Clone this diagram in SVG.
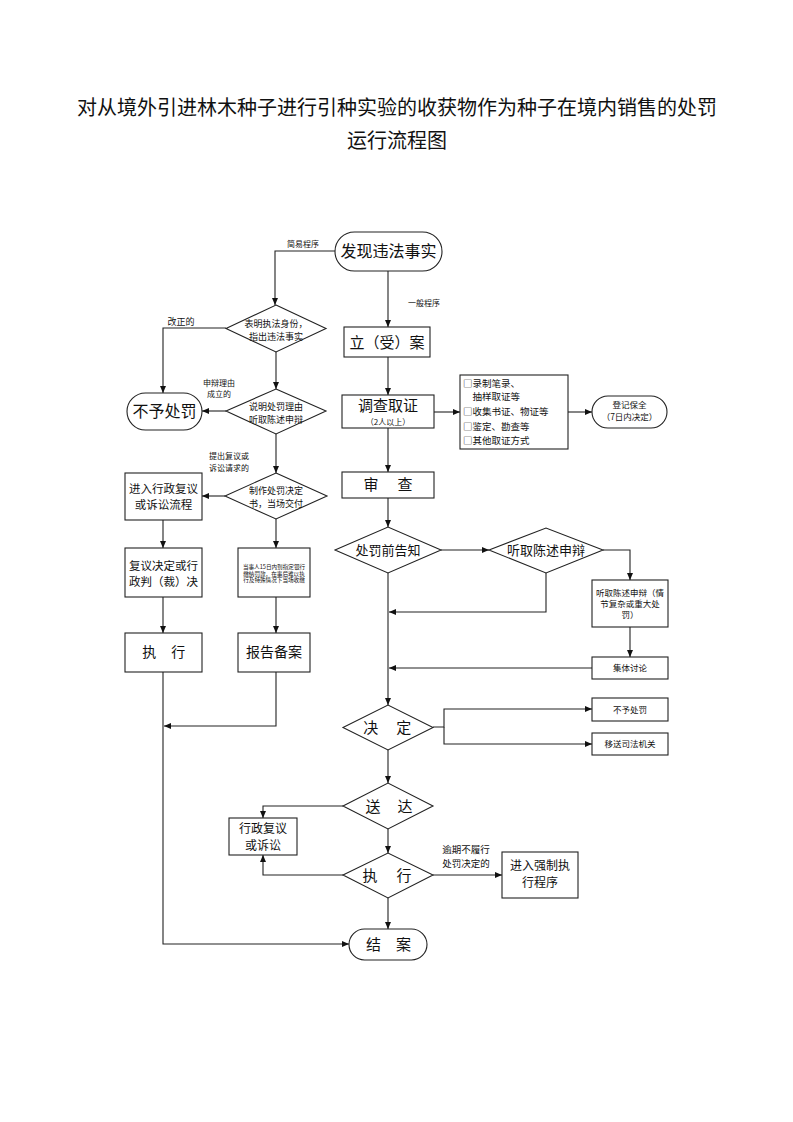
<svg xmlns="http://www.w3.org/2000/svg" width="793" height="1122" viewBox="0 0 793 1122">
<style>
text{font-family:"Noto Sans CJK SC","Noto Sans",sans-serif;fill:#111;text-anchor:middle}
.s{fill:#fff;stroke:#222;stroke-width:1.1}
.c path{fill:none;stroke:#222;stroke-width:1.1}
.t{font-size:20px}
.l{font-size:8px}
</style>
<defs>
<marker id="a" markerWidth="7" markerHeight="6" refX="7" refY="3" orient="auto" markerUnits="userSpaceOnUse"><path d="M0,0 L7,3 L0,6 Z" fill="#111"/></marker>
</defs>
<rect width="793" height="1122" fill="#fff"/>
<g id="title">
<text class="t" x="397" y="115">对从境外引进林木种子进行引种实验的收获物作为种子在境内销售的处罚</text>
<text class="t" x="397" y="148">运行流程图</text>
</g>
<g class="c" id="connectors" marker-end="url(#a)">
<path d="M335,251 H275 V305"/>
<path d="M388,271 V327"/>
<path d="M226,328 H163 V393"/>
<path d="M276,352 V389"/>
<path d="M226,411 H202"/>
<path d="M276,434 V473"/>
<path d="M225,496 H202"/>
<path d="M163,520 V548"/>
<path d="M276,519 V548"/>
<path d="M163,597 V633"/>
<path d="M276,597 V633"/>
<path d="M163,672 V944 H349"/>
<path d="M276,672 V726 H164"/>
<path d="M388,357 V395"/>
<path d="M434,412 H460"/>
<path d="M568,412 H592"/>
<path d="M388,428 V472"/>
<path d="M388,498 V527"/>
<path d="M441,550 H489"/>
<path d="M388,573 V705"/>
<path d="M603,550 H630 V580"/>
<path d="M546,573 V612 H389"/>
<path d="M630,627 V657"/>
<path d="M592,668 H389"/>
<path d="M433,727 H444 V709 H592"/>
<path d="M444,727 V744 H592"/>
<path d="M388,750 V783"/>
<path d="M343,806 H263 V818"/>
<path d="M388,829 V853"/>
<path d="M343,875 H263 V855"/>
<path d="M433,875 H502"/>
<path d="M388,898 V929"/>
</g>
<g id="labels">
<text class="l" x="303" y="247">简易程序</text>
<text class="l" x="424" y="306">一般程序</text>
<text class="l" x="181" y="325" style="font-size:9px">改正的</text>
<text class="l" x="219" y="386">申辩理由</text>
<text class="l" x="219" y="397">成立的</text>
<text class="l" x="229" y="459">提出复议或</text>
<text class="l" x="229" y="471">诉讼请求的</text>
<text class="l" x="466" y="853" style="font-size:9.5px">逾期不履行</text>
<text class="l" x="466" y="867" style="font-size:9.5px">处罚决定的</text>
</g>
<g id="n_faxian"><rect class="s" x="335" y="232" width="107" height="39" rx="19.5"/><text x="388.5" y="257" style="font-size:16px">发现违法事实</text></g>
<g id="n_biaoming"><polygon class="s" points="276,305 326,328.5 276,352 226,328.5"/><text x="276" y="327" style="font-size:9px">表明执法身份，</text><text x="276" y="340" style="font-size:9px">指出违法事实</text></g>
<g id="n_shuoming"><polygon class="s" points="276,389 326,411 276,434 226,411"/><text x="276" y="410" style="font-size:9px">说明处罚理由</text><text x="276" y="423" style="font-size:9px">听取陈述申辩</text></g>
<g id="n_buyu1"><rect class="s" x="127" y="393" width="75" height="37" rx="18.5"/><text x="164.5" y="417" style="font-size:16px">不予处罚</text></g>
<g id="n_zhizuo"><polygon class="s" points="276,473 327,496 276,519 225,496"/><text x="276" y="494" style="font-size:9px">制作处罚决定</text><text x="276" y="507" style="font-size:9px">书，当场交付</text></g>
<g id="n_jinru"><rect class="s" x="125" y="473" width="77" height="47"/><text x="163.5" y="493" style="font-size:11.5px">进入行政复议</text><text x="163.5" y="509" style="font-size:11.5px">或诉讼流程</text></g>
<g id="n_fuyi"><rect class="s" x="125" y="548" width="77" height="49"/><text x="163.5" y="570" style="font-size:11.5px">复议决定或行</text><text x="163.5" y="586" style="font-size:11.5px">政判（裁）决</text></g>
<g id="n_dangshiren"><rect class="s" x="238" y="548" width="72" height="49"/><text x="274" y="569" style="font-size:5.6px">当事人15日内到指定银行</text><text x="274" y="575.5" style="font-size:5.6px">缴纳罚款，在事后难以执</text><text x="274" y="582" style="font-size:5.6px">行及特殊情况下当场收缴</text></g>
<g id="n_zhixing1"><rect class="s" x="125" y="633" width="77" height="39"/><text x="164" y="657" style="font-size:14px;letter-spacing:0.5px">执　行</text></g>
<g id="n_baogao"><rect class="s" x="238" y="633" width="72" height="39"/><text x="274" y="657" style="font-size:14px">报告备案</text></g>
<g id="n_lian"><rect class="s" x="344" y="327" width="86" height="30"/><text x="387" y="347.5" style="font-size:15px">立（受）案</text></g>
<g id="n_diaocha"><rect class="s" x="342" y="395" width="92" height="33"/><text x="388" y="411" style="font-size:15px">调查取证</text><text x="388" y="425" style="font-size:8px">（2人以上）</text></g>
<g id="n_quzheng"><rect class="s" x="460" y="375" width="108" height="74"/>
<text x="463" y="387" style="font-size:9.5px;text-anchor:start">□录制笔录、</text>
<text x="463" y="400" style="font-size:9.5px;text-anchor:start">　抽样取证等</text>
<text x="463" y="415" style="font-size:9.5px;text-anchor:start">□收集书证、物证等</text>
<text x="463" y="430" style="font-size:9.5px;text-anchor:start">□鉴定、勘查等</text>
<text x="463" y="444" style="font-size:9.5px;text-anchor:start">□其他取证方式</text></g>
<g id="n_dengji"><rect class="s" x="592" y="396" width="75" height="32" rx="16"/><text x="629.5" y="408" style="font-size:8.5px">登记保全</text><text x="629.5" y="420" style="font-size:8.5px">（7日内决定）</text></g>
<g id="n_shencha"><rect class="s" x="342" y="472" width="92" height="26"/><text x="389" y="490" style="font-size:15px;letter-spacing:2px">审　查</text></g>
<g id="n_gaozhi"><polygon class="s" points="335,550 388,527 441,550 388,573"/><text x="388" y="554.5" style="font-size:13px">处罚前告知</text></g>
<g id="n_tingqu"><polygon class="s" points="489,550 546,528 603,550 546,573"/><text x="546" y="554.5" style="font-size:13px">听取陈述申辩</text></g>
<g id="n_tingqu2"><rect class="s" x="592" y="580" width="76" height="47"/><text x="630" y="596" style="font-size:8.5px">听取陈述申辩（情</text><text x="630" y="607" style="font-size:8.5px">节复杂或重大处</text><text x="630" y="618" style="font-size:8.5px">罚）</text></g>
<g id="n_jiti"><rect class="s" x="592" y="657" width="76" height="22"/><text x="630" y="671" style="font-size:8.5px">集体讨论</text></g>
<g id="n_jueding"><polygon class="s" points="343,727.5 388,705 433,727.5 388,750"/><text x="388" y="733" style="font-size:15px;letter-spacing:1.5px">决　定</text></g>
<g id="n_buyu2"><rect class="s" x="592" y="698" width="76" height="23"/><text x="630" y="712.5" style="font-size:8.5px">不予处罚</text></g>
<g id="n_yisong"><rect class="s" x="592" y="733" width="76" height="22"/><text x="630" y="747" style="font-size:8.5px">移送司法机关</text></g>
<g id="n_songda"><polygon class="s" points="343,806 388,783 433,806 388,829"/><text x="389.5" y="811.5" style="font-size:15px;letter-spacing:1px">送　达</text></g>
<g id="n_fuyi2"><rect class="s" x="229" y="818" width="68" height="37"/><text x="263" y="833" style="font-size:12px">行政复议</text><text x="263" y="850" style="font-size:12px">或诉讼</text></g>
<g id="n_zhixing2"><polygon class="s" points="343,875 388,853 433,875 388,898"/><text x="388" y="880.5" style="font-size:15px;letter-spacing:2px">执　行</text></g>
<g id="n_qiangzhi"><rect class="s" x="502" y="852" width="76" height="46"/><text x="540" y="870" style="font-size:12px">进入强制执</text><text x="540" y="887" style="font-size:12px">行程序</text></g>
<g id="n_jiean"><rect class="s" x="349" y="929" width="78" height="31" rx="15.5"/><text x="388.5" y="949.5" style="font-size:15px">结　案</text></g>
</svg>
